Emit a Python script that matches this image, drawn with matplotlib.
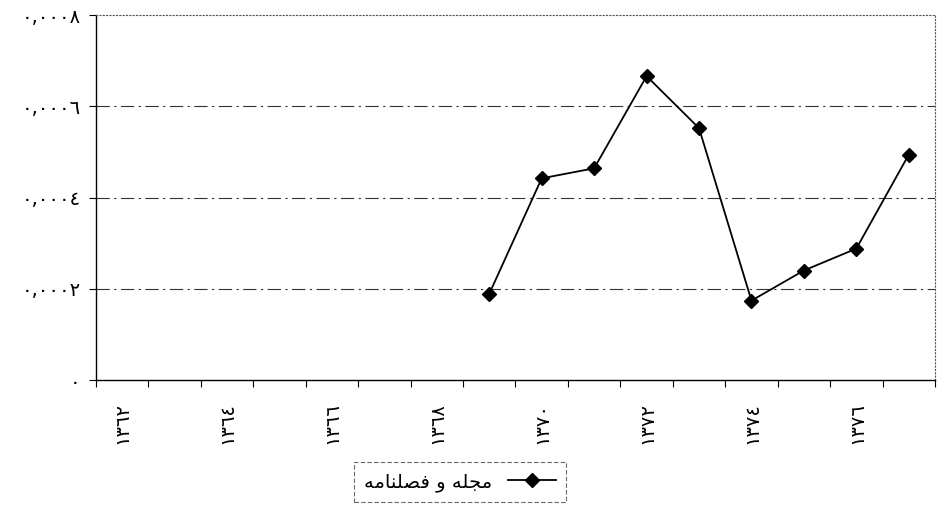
import numpy as np
import matplotlib.pyplot as plt
from matplotlib.ticker import FixedLocator

plt.rcParams['font.family'] = ['DejaVu Sans']

# years 1362..1377 (Persian digits), values only from 1369
years = ['١٣٦٢', '١٣٦٣', '١٣٦٤', '١٣٦٥', '١٣٦٦', '١٣٦٧', '١٣٦٨', '١٣٦٩',
         '١٣٧٠', '١٣٧١', '١٣٧٢', '١٣٧٣', '١٣٧٤', '١٣٧٥', '١٣٧٦', '١٣٧٧']
values = [np.nan, np.nan, np.nan, np.nan, np.nan, np.nan, np.nan, 0.000189,
          0.000442, 0.000464, 0.000666, 0.000552, 0.000174, 0.000240, 0.000288, 0.000494]
y_ticks = [0, 0.0002, 0.0004, 0.0006, 0.0008]
y_labels = ['٠', '٠,٠٠٠٢', '٠,٠٠٠٤', '٠,٠٠٠٦', '٠,٠٠٠٨']
# "مجله و فصلنامه" in shaped presentation forms, visual order
series_name = 'ﻪﻣﺎﻨﻠﺼﻓ ﻭ ﻪﻠﺠﻣ'

fig = plt.figure(figsize=(9.45, 5.08), dpi=100)
ax = fig.add_axes([96 / 945, 1 - 380 / 508, 839 / 945, (380 - 15) / 508])

x = np.arange(len(years))
ax.plot(x, values, color='black', linewidth=1.3, marker='D', markersize=7,
        markerfacecolor='black', markeredgecolor='black', label=series_name)

ax.set_xlim(-0.5, len(years) - 0.5)
ax.set_ylim(0, 0.0008)

# x: labels every other year, tick marks at category boundaries
ax.set_xticks(x[::2])
ax.set_xticklabels(years[::2], rotation=90, fontsize=14)
ax.tick_params(axis='x', which='major', length=0, pad=16)
ax.xaxis.set_minor_locator(FixedLocator(np.arange(-0.5, len(years), 1)))
ax.tick_params(axis='x', which='minor', length=5, width=0.8, direction='out')

ax.set_yticks(y_ticks)
ax.set_yticklabels(y_labels, fontsize=14)
ax.tick_params(axis='y', length=5, width=0.8, direction='out', pad=6)

# gridlines dash-dot
for v in y_ticks[1:-1]:
    ax.axhline(v, color='#333333', linewidth=0.8, linestyle=(0, (12, 4, 2, 4)), zorder=0)

ax.spines['left'].set_color('black')
ax.spines['left'].set_linewidth(1.0)
ax.spines['bottom'].set_color('black')
ax.spines['bottom'].set_linewidth(1.0)
ax.spines['bottom'].set_linestyle((0, (3, 1)))
for s in ['top', 'right']:
    ax.spines[s].set_color('#555555')
    ax.spines[s].set_linewidth(0.8)
    ax.spines[s].set_linestyle((0, (1, 2)))

leg = fig.legend(loc='center', bbox_to_anchor=(460 / 945, 1 - 482 / 508),
                 markerfirst=False, fontsize=14, frameon=True, fancybox=False,
                 handlelength=2.5, borderpad=0.5)
leg.get_frame().set_edgecolor('#444444')
leg.get_frame().set_linestyle((0, (4, 2)))
leg.get_frame().set_linewidth(0.8)

fig.savefig('out.png', dpi=100)
